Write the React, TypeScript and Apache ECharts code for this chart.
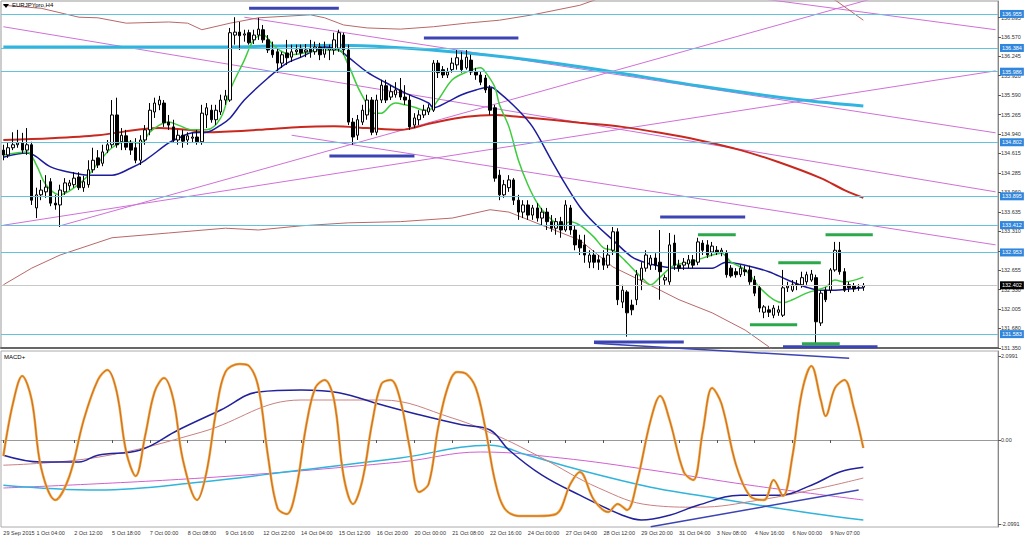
import React, { useEffect, useRef } from "react";
import * as echarts from "echarts";

const slotCount = 211;
const timeLabels = ["29 Sep 2015", "1 Oct 04:00", "2 Oct 12:00", "5 Oct 18:00", "7 Oct 00:00", "8 Oct 08:00", "9 Oct 16:00", "12 Oct 22:00", "14 Oct 04:00", "15 Oct 12:00", "16 Oct 20:00", "20 Oct 00:00", "21 Oct 08:00", "22 Oct 16:00", "24 Oct 00:00", "27 Oct 04:00", "28 Oct 12:00", "29 Oct 20:00", "31 Oct 04:00", "3 Nov 08:00", "4 Nov 16:00", "6 Nov 00:00", "9 Nov 07:00"];
const timeLabelBars = [0, 7, 15, 23, 31, 39, 47, 55, 63, 71, 79, 87, 95, 103, 111, 119, 127, 135, 143, 151, 159, 167, 175];
const priceTicks = [131.35, 131.68, 132.005, 132.33, 132.655, 132.98, 133.31, 133.635, 133.96, 134.285, 134.615, 134.94, 135.265, 135.59, 135.92, 136.245, 136.57, 136.895];
const levelPrices = [136.955, 136.384, 135.986, 134.802, 133.895, 133.412, 132.953, 131.583];
const lastPrice = 132.402;
const macdTicks = [-2.0991, 0, 2.0991];

// [open, close, low, high]
const candles = [
[134.67,134.59,134.50,134.76],[134.59,134.71,134.54,134.79],[134.71,134.76,134.67,134.97],[134.76,134.79,134.71,135.01],
[134.79,134.67,134.62,134.96],[134.67,134.76,134.59,135.04],[134.76,133.83,133.75,134.81],[133.70,133.92,133.53,134.04],
[133.92,134.00,133.83,134.17],[133.97,134.05,133.87,134.25],[134.14,133.78,133.73,134.20],[133.78,133.75,133.67,133.92],
[133.75,134.00,133.38,134.09],[133.97,134.12,133.92,134.20],[134.07,134.12,134.00,134.17],[134.09,134.20,134.04,134.30],
[134.22,134.04,134.00,134.30],[134.04,134.14,133.97,134.24],[134.09,134.34,134.04,134.50],[134.34,134.50,134.29,134.71],
[134.54,134.42,134.37,134.67],[134.45,134.64,134.40,134.76],[134.67,134.76,134.62,134.84],[134.76,135.26,134.71,135.51],
[135.26,134.76,134.71,135.55],[134.81,134.92,134.67,135.04],[134.91,134.72,134.67,135.01],[134.79,134.67,134.59,134.84],
[134.71,134.50,134.45,134.87],[134.50,134.84,134.42,134.92],[134.84,135.01,134.76,135.09],[135.01,135.34,134.92,135.46],
[135.31,135.46,135.21,135.55],[135.43,135.51,135.34,135.58],[135.46,135.13,135.06,135.51],[135.14,135.09,135.01,135.26],
[135.06,134.84,134.79,135.18],[134.84,134.92,134.76,135.01],[134.92,134.82,134.71,135.01],[134.84,134.91,134.76,134.97],
[134.87,134.89,134.79,134.96],[134.89,134.81,134.76,135.01],[134.81,135.29,134.76,135.43],[135.26,135.38,135.04,135.46],
[135.34,135.18,135.13,135.43],[135.18,135.34,135.09,135.43],[135.31,135.51,135.26,135.60],[135.51,135.58,135.43,135.68],
[135.51,136.64,135.48,136.72],[136.60,136.65,136.44,136.90],[136.65,136.59,136.35,136.82],[136.60,136.62,136.49,136.69],
[136.64,136.47,136.44,136.69],[136.52,136.60,136.45,136.69],[136.60,136.70,136.52,136.89],[136.69,136.52,136.47,136.77],
[136.52,136.35,136.30,136.60],[136.35,136.27,136.22,136.49],[136.32,136.13,135.97,136.38],[136.13,136.27,136.05,136.32],
[136.30,136.22,136.10,136.52],[136.23,136.32,136.15,136.44],[136.32,136.35,136.27,136.44],[136.38,136.30,136.22,136.44],
[136.32,136.35,136.23,136.45],[136.38,136.32,136.22,136.52],[136.32,136.40,136.27,136.49],[136.40,136.27,136.18,136.47],
[136.28,136.38,136.22,136.49],[136.35,136.38,136.18,136.44],[136.35,136.52,136.27,136.64],[136.38,136.64,136.32,136.69],
[136.60,136.35,136.27,136.64],[136.35,135.14,135.09,136.44],[135.14,134.89,134.76,135.21],[134.92,135.18,134.84,135.26],
[135.14,135.34,135.09,135.43],[135.26,135.51,135.18,135.60],[135.51,134.97,134.92,135.56],[134.97,135.51,134.92,135.60],
[135.51,135.76,135.46,135.85],[135.75,135.51,135.46,135.85],[135.56,135.65,135.51,135.76],[135.60,135.68,135.55,135.81],
[135.68,135.56,135.51,135.88],[135.56,135.51,135.43,135.76],[135.51,135.06,135.01,135.60],[135.09,135.21,135.04,135.29],
[135.18,135.26,135.09,135.34],[135.26,135.34,135.21,135.43],[135.31,135.38,135.26,135.44],[135.34,136.13,135.31,136.18],
[136.13,135.97,135.88,136.18],[136.02,135.93,135.88,136.08],[135.93,135.98,135.88,136.05],[136.02,136.13,135.97,136.22],
[136.10,136.22,136.02,136.35],[136.18,136.02,135.97,136.32],[136.05,136.23,136.02,136.35],[136.18,135.98,135.93,136.27],
[135.98,135.93,135.85,136.05],[135.93,135.81,135.76,135.98],[135.88,135.68,135.63,135.93],[135.71,135.34,135.26,135.76],
[135.38,134.20,134.14,135.43],[134.25,133.92,133.83,134.34],[133.92,134.09,133.87,134.17],[134.04,134.17,133.97,134.25],
[134.17,133.83,133.75,134.20],[133.83,133.63,133.50,133.92],[133.63,133.75,133.53,133.83],[133.75,133.58,133.50,133.83],
[133.58,133.70,133.50,133.75],[133.70,133.53,133.47,133.78],[133.53,133.63,133.41,133.70],[133.63,133.47,133.33,133.70],
[133.47,133.36,133.30,133.58],[133.36,133.47,133.25,133.53],[133.47,133.33,133.20,133.55],[133.33,133.75,133.30,133.83],
[133.70,133.33,133.25,133.75],[133.33,133.08,132.99,133.41],[133.16,133.03,132.91,133.25],[133.08,132.91,132.78,133.25],
[132.79,132.91,132.69,132.99],[132.91,132.79,132.69,132.99],[132.83,132.79,132.66,132.91],[132.86,132.74,132.66,132.99],
[132.74,132.91,132.69,133.08],[132.99,133.30,132.91,133.38],[133.30,132.16,132.07,133.36],[132.12,132.32,132.02,132.41],
[132.29,131.94,131.54,132.32],[132.07,131.99,131.90,132.16],[132.16,132.58,132.07,132.66],[132.49,132.69,132.32,132.79],
[132.69,132.91,132.63,132.99],[132.74,132.86,132.66,132.91],[132.86,132.74,132.66,132.94],[132.79,132.63,132.16,133.33],
[132.49,132.53,132.41,132.58],[132.46,133.08,132.41,133.28],[133.11,132.74,132.66,133.25],[132.74,132.69,132.63,132.83],
[132.74,132.79,132.66,132.86],[132.76,132.83,132.69,132.91],[132.83,132.74,132.69,132.91],[132.79,133.13,132.74,133.20],
[133.11,132.99,132.91,133.16],[133.08,132.91,132.86,133.16],[132.96,133.06,132.89,133.13],[132.99,132.96,132.91,133.06],
[132.96,132.99,132.89,133.03],[132.94,132.58,132.53,132.99],[132.69,132.56,132.53,132.74],[132.63,132.58,132.53,132.69],
[132.58,132.69,132.54,132.74],[132.66,132.63,132.56,132.73],[132.66,132.46,132.41,132.73],[132.49,132.27,132.22,132.56],
[132.36,132.02,131.95,132.41],[131.95,132.04,131.85,132.07],[131.99,131.95,131.87,132.06],[131.90,132.02,131.85,132.07],
[131.95,131.99,131.89,132.06],[131.90,132.36,131.87,132.66],[132.36,132.39,132.29,132.46],[132.32,132.41,132.29,132.49],
[132.41,132.42,132.32,132.49],[132.41,132.53,132.36,132.63],[132.46,132.58,132.41,132.63],[132.49,132.59,132.46,132.66],
[132.53,131.79,131.43,132.58],[131.77,132.27,131.72,132.32],[132.32,132.16,132.12,132.37],[132.32,132.66,132.27,132.69],
[132.66,132.99,132.63,133.13],[132.99,132.63,132.58,133.13],[132.63,132.32,132.29,132.69],[132.41,132.36,132.29,132.46],
[132.39,132.34,132.29,132.44],[132.36,132.37,132.31,132.42],[132.37,132.40,132.31,132.44]
];

// moving averages / bands: [bar, price]
const greenMA = [[0,134.59],[5,134.64],[7,134.42],[9,134.09],[12,133.92],[15,134.04],[18,134.25],[20,134.45],[23,134.71],[26,134.81],[29,134.79],[31,134.97],[33,135.09],[35,135.14],[37,135.09],[40,135.01],[43,135.01],[46,135.21],[48,135.68],[51,136.18],[53,136.52],[55,136.60],[57,136.44],[59,136.32],[61,136.27],[65,136.32],[68,136.35],[71,136.35],[73,136.10],[75,135.73],[77,135.43],[78,135.29],[80,135.29],[82,135.43],[83,135.46],[85,135.43],[87,135.39],[89,135.34],[90,135.34],[92,135.51],[95,135.85],[98,135.98],[101,136.05],[102,135.98],[104,135.73],[105,135.43],[107,135.06],[109,134.50],[111,134.09],[113,133.78],[115,133.58],[118,133.41],[120,133.47],[122,133.41],[125,133.21],[127,133.03],[129,132.99],[131,132.86],[132,132.78],[135,132.54],[137,132.41],[139,132.54],[142,132.74],[145,132.78],[147,132.83],[150,132.91],[152,132.94],[154,132.79],[157,132.66],[160,132.37],[163,132.16],[165,132.11],[167,132.16],[170,132.27],[172,132.32],[174,132.37],[176,132.49],[178,132.46],[182,132.54]];
const blueMA = [[0,134.55],[5,134.62],[10,134.39],[14,134.30],[18,134.25],[23,134.25],[27,134.37],[30,134.50],[35,134.79],[37,134.87],[40,134.96],[43,134.97],[46,135.09],[48,135.21],[51,135.51],[56,135.88],[60,136.13],[63,136.23],[66,136.35],[68,136.40],[71,136.35],[73,136.23],[77,135.98],[81,135.80],[85,135.63],[90,135.46],[91,135.38],[94,135.48],[97,135.60],[100,135.68],[103,135.73],[105,135.63],[109,135.34],[112,135.06],[116,134.50],[119,134.09],[122,133.72],[125,133.45],[129,133.16],[133,132.88],[136,132.78],[140,132.71],[143,132.69],[147,132.69],[150,132.69],[153,132.79],[157,132.74],[162,132.63],[166,132.49],[170,132.37],[173,132.32],[176,132.32],[179,132.34],[182,132.36]];
const redMA = [[0,134.84],[10,134.87],[20,134.92],[33,135.04],[39,135.01],[43,134.97],[54,135.01],[63,135.06],[70,135.07],[77,135.04],[84,135.01],[91,135.13],[98,135.23],[104,135.26],[109,135.23],[116,135.18],[122,135.13],[131,135.06],[139,134.96],[147,134.84],[156,134.67],[164,134.47],[173,134.20],[178,134.00],[182,133.87]];
const cyanMA = [[0,136.40],[20,136.40],[42,136.40],[71,136.43],[98,136.30],[122,136.07],[147,135.75],[169,135.51],[182,135.41]];
const upperBand = [[0,137.10],[8,137.05],[16,136.90],[20,136.89],[26,136.80],[35,136.82],[39,136.80],[42,136.69],[48,136.80],[54,136.89],[65,136.94],[68,136.89],[72,136.77],[77,136.72],[84,136.70],[91,136.74],[98,136.80],[105,136.85],[112,136.94],[122,137.10],[128,137.27],[147,137.52],[173,137.27],[176,137.19],[182,136.85]];
const lowerBand = [[0,132.41],[6,132.69],[12,132.91],[23,133.20],[35,133.28],[47,133.36],[54,133.33],[63,133.40],[73,133.45],[84,133.47],[95,133.53],[103,133.67],[107,133.63],[114,133.41],[122,133.16],[129,132.71],[136,132.44],[143,132.16],[150,131.94],[157,131.65],[162,131.37],[165,131.15],[182,130.14]];

// trendlines: [[bar, price], [bar, price]]
const magentaTrends = [
  [[0,133.41],[210,136.00]],
  [[12,133.40],[210,137.79]],
  [[0,136.74],[210,133.97]],
  [[61,134.92],[210,133.08]],
  [[51,136.90],[210,134.96]],
  [[150,137.32],[210,136.69]],
];
// horizontal marks: [startBar, endBar, price]
const blueMarks = [[52,71,137.05],[89,109,136.55],[69,87,134.57],[139,157,133.55],[125,144,131.45],[165,185,131.37]];
const greenMarks = [[147,155,133.25],[164,173,132.78],[174,184,133.25],[158,168,131.74],[169,177,131.42]];
const blueDiagonal = [[125,131.43],[179,131.18]];

// MACD panel: [bar, value]
const oscillator = [[0,-0.4],[2,0.9],[4,1.6],[6,1.0],[8,-0.7],[11,-1.5],[14,-0.9],[17,0.5],[20,1.5],[22,1.75],[24,1.2],[26,-0.3],[28,-0.9],[30,0.1],[32,1.2],[34,1.55],[36,1.0],[38,-0.5],[41,-1.5],[43,-0.8],[45,0.7],[47,1.7],[50,1.9],[52,1.85],[54,1.3],[56,-0.4],[58,-1.7],[60,-1.85],[62,-1.2],[64,0.3],[66,1.3],[68,1.5],[70,1.0],[72,-0.9],[74,-1.6],[76,-1.0],[78,0.4],[80,1.4],[82,1.5],[84,1.0],[86,-0.2],[88,-1.3],[90,-1.1],[92,0.3],[94,1.3],[96,1.7],[98,1.65],[100,1.3],[102,0.3],[104,-1.0],[106,-1.7],[109,-1.9],[113,-1.9],[117,-1.85],[120,-1.1],[122,-0.8],[125,-1.5],[128,-1.8],[130,-1.6],[132,-1.75],[134,-1.1],[137,0.5],[139,1.1],[141,0.5],[144,-0.8],[146,-1.0],[148,0.2],[150,1.3],[152,0.9],[155,-0.6],[158,-1.4],[161,-1.5],[163,-1.0],[165,-1.4],[167,-0.4],[169,1.2],[171,1.85],[173,1.0],[174,0.6],[176,1.3],[178,1.5],[180,0.8],[182,-0.2]];
const macdBlue = [[0,-0.38],[8,-0.55],[16,-0.55],[20,-0.38],[29,-0.25],[37,0.25],[46,0.75],[54,1.2],[63,1.25],[71,1.18],[80,0.88],[88,0.63],[97,0.38],[103,0.25],[107,-0.25],[114,-0.88],[122,-1.38],[131,-1.88],[135,-2.0],[141,-1.88],[147,-1.63],[156,-1.38],[164,-1.38],[171,-1.13],[177,-0.8],[182,-0.68]];
const macdSignal = [[0,-0.63],[20,-0.43],[42,0.2],[63,1.0],[80,1.0],[95,0.55],[105,0.08],[114,-0.45],[126,-1.2],[137,-1.63],[147,-1.68],[160,-1.5],[173,-1.2],[182,-0.95]];
const macdCyan = [[0,-1.13],[20,-1.25],[42,-1.05],[63,-0.75],[84,-0.45],[103,-0.13],[111,-0.38],[122,-0.75],[137,-1.18],[147,-1.38],[160,-1.63],[171,-1.83],[182,-2.0]];
const macdMagenta = [[0,-1.2],[42,-0.95],[84,-0.55],[101,-0.3],[118,-0.45],[137,-0.75],[158,-1.13],[182,-1.5]];
const macdTrend = [[137,-2.17],[181,-1.25]];

const FONT = "Liberation Sans";

function lineS(data: any, color: string, width: number, extra: any = {}) {
  return {
    type: "line", data, symbol: "none", silent: true, z: 3,
    lineStyle: { color, width }, ...extra,
  };
}

export default function App() {
  const ref = useRef<HTMLDivElement>(null);
  useEffect(() => {
    if (!ref.current) return;
    const chart = echarts.init(ref.current, null, { renderer: "svg" });
    const labelAt: Record<number, string> = {};
    timeLabelBars.forEach((b, i) => (labelAt[b] = timeLabels[i]));
    const categories = Array.from({ length: slotCount }, (_, i) => String(i));
    const isLabelled = (i: number) => labelAt[i] !== undefined;

    const series: any[] = [];
    series.push({
      type: "line", data: [], xAxisIndex: 0, yAxisIndex: 0, z: 1,
      markLine: {
        silent: true, symbol: ["none", "none"], animation: false, precision: 3,
        lineStyle: { color: "#63c2dc", width: 1, type: "solid" },
        label: {
          position: "end", distance: 2, formatter: "{b}", color: "#fff",
          backgroundColor: "#2f86dc", fontSize: 5.5, fontFamily: FONT, padding: [1, 2, 1, 2],
        },
        data: [
          ...levelPrices.map((v) => ({ yAxis: v, name: v.toFixed(3) })),
          {
            yAxis: lastPrice, name: lastPrice.toFixed(3),
            lineStyle: { color: "#c8c8c8", width: 1, type: "solid" },
            label: { backgroundColor: "#000", color: "#fff" },
          },
        ],
      },
    });
    magentaTrends.forEach((t) => series.push(lineS(t, "#d070d8", 1, { z: 2 })));
    series.push(lineS(upperBand, "#b86868", 1, { z: 2 }));
    series.push(lineS(lowerBand, "#b86868", 1, { z: 2 }));
    series.push({
      type: "candlestick", data: candles, xAxisIndex: 0, yAxisIndex: 0, barWidth: 3, z: 3, silent: true,
      itemStyle: { color: "#fff", color0: "#000", borderColor: "#000", borderColor0: "#000", borderWidth: 1 },
    });
    series.push(lineS(cyanMA, "#30b4e0", 3, { smooth: 0.3 }));
    series.push(lineS(redMA, "#c8281e", 2, { smooth: 0.3 }));
    series.push(lineS(blueMA, "#1c1c9c", 1.5, { smooth: 0.35 }));
    series.push(lineS(greenMA, "#3ccc3c", 1.5, { smooth: 0.35 }));
    blueMarks.forEach((m) => series.push(lineS([[m[0], m[2]], [m[1], m[2]]], "#3c44b4", 3, { z: 4, clip: false })));
    greenMarks.forEach((m) => series.push(lineS([[m[0], m[2]], [m[1], m[2]]], "#2aa84a", 3, { z: 4, clip: false })));
    series.push(lineS(blueDiagonal, "#3c44b4", 1.5, { z: 4, clip: false }));

    const m = { xAxisIndex: 1, yAxisIndex: 1 };
    series.push(lineS(macdMagenta, "#d060d0", 1, { ...m, smooth: 0.4 }));
    series.push(lineS(macdCyan, "#30b4dc", 1.5, { ...m, smooth: 0.4 }));
    series.push(lineS(macdSignal, "#c88080", 1, { ...m, smooth: 0.4 }));
    series.push(lineS(macdBlue, "#22229c", 1.5, { ...m, smooth: 0.4 }));
    series.push(lineS(macdTrend, "#3c44b4", 1.5, { ...m }));
    series.push(lineS(oscillator, "#f6a43a", 2.5, { ...m, smooth: 0.35 }));
    series.push(lineS(oscillator, "#b4622a", 0.8, { ...m, smooth: 0.35, z: 4 }));

    const option: any = {
      animation: false,
      backgroundColor: "#fff",
      grid: [
        { left: 1, top: 1, width: 997, height: 347, show: true, borderColor: "#999", borderWidth: 1 },
        { left: 1, top: 351, width: 997, height: 176, show: true, borderColor: "#aaa", borderWidth: 1 },
      ],
      xAxis: [
        {
          type: "category", gridIndex: 0, data: categories, boundaryGap: true,
          axisLine: { show: true, lineStyle: { color: "#666", width: 2 } },
          axisTick: { show: false }, axisLabel: { show: false }, splitLine: { show: false },
        },
        {
          type: "category", gridIndex: 1, data: categories, boundaryGap: true,
          axisLine: { show: true, lineStyle: { color: "#999", width: 1 } },
          axisTick: { show: true, alignWithLabel: true, length: 3, interval: (i: number) => isLabelled(i), lineStyle: { color: "#555" } },
          axisLabel: {
            interval: (i: number) => isLabelled(i), formatter: (_v: string, i: number) => labelAt[i] || "",
            showMinLabel: true, hideOverlap: false,
            align: "left", fontSize: 5.5, color: "#333", fontFamily: FONT, margin: 3,
          },
          splitLine: { show: false },
        },
      ],
      yAxis: [
        {
          type: "value", gridIndex: 0, position: "right", min: 131.35, max: 137.172,
          axisLine: { show: true, lineStyle: { color: "#888" } },
          axisTick: { show: true, length: 3, customValues: priceTicks, lineStyle: { color: "#555" } },
          axisLabel: { customValues: priceTicks, formatter: (v: number) => v.toFixed(3), fontSize: 5.5, color: "#333", fontFamily: FONT, margin: 3 },
          splitLine: { show: false },
        },
        {
          type: "value", gridIndex: 1, position: "right", min: -2.175, max: 2.225,
          axisLine: { show: true, lineStyle: { color: "#888" } },
          axisTick: { show: true, length: 3, customValues: macdTicks, lineStyle: { color: "#555" } },
          axisLabel: { customValues: macdTicks, formatter: (v: number) => (v === 0 ? "0.00" : v.toFixed(4)), fontSize: 5.5, color: "#333", fontFamily: FONT, margin: 3 },
          splitLine: { show: false },
        },
      ],
      graphic: [
        { type: "polygon", shape: { points: [[3, 4], [9, 4], [6, 8]] }, style: { fill: "#000" }, z: 10 },
        { type: "text", left: 12, top: 2, style: { text: "EURJPYpro,H4", fontSize: 6, fill: "#000", fontFamily: FONT }, z: 10 },
        { type: "text", left: 4, top: 354, style: { text: "MACD+", fontSize: 6, fill: "#000", fontFamily: FONT }, z: 10 },
      ],
      series,
    };
    chart.setOption(option);
    return () => chart.dispose();
  }, []);
  return <div ref={ref} style={{ position: "fixed", left: 0, top: 0, width: 1024, height: 539, background: "#fff" }} />;
}
